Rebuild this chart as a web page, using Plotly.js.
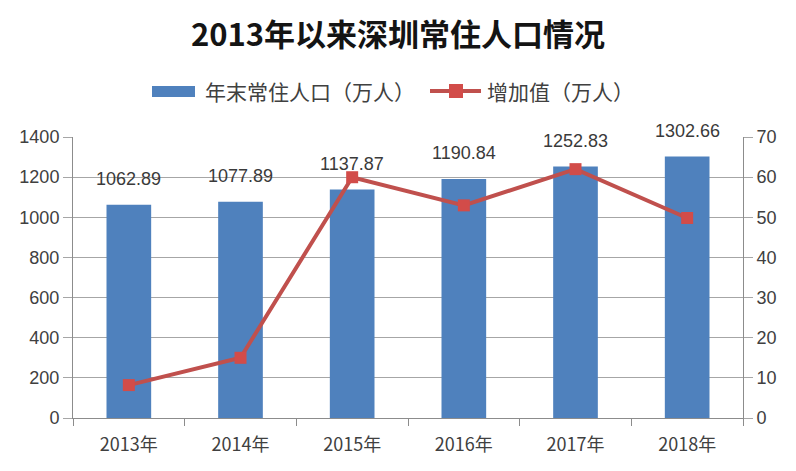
<!DOCTYPE html>
<html>
<head>
<meta charset="utf-8">
<script src="https://cdn.plot.ly/plotly-3.0.1.min.js"></script>
<style>html,body{margin:0;padding:0;background:#fff;}#chart{width:796px;height:471px;}</style>
</head>
<body>
<div id="chart"></div>
<script>
const years = ["2013年", "2014年", "2015年", "2016年", "2017年", "2018年"];
const population = [1062.89, 1077.89, 1137.87, 1190.84, 1252.83, 1302.66];
const increase = [8.2, 15.0, 59.98, 52.97, 61.99, 49.83];
const popLabels = ["1062.89", "1077.89", "1137.87", "1190.84", "1252.83", "1302.66"];
const seriesNames = ["年末常住人口（万人）", "增加值（万人）"];
const titleText = "2013年以来深圳常住人口情况";

const numFont = "Liberation Sans, Noto Sans CJK SC, sans-serif";
const cjkFont = "Noto Sans CJK SC, sans-serif";
const blue = "#4f81bd";
const red = "#c0504d";
const markerRed = "#d24c49";

const traces = [
  {
    type: "bar", x: years, y: population, name: seriesNames[0],
    marker: {color: blue}, width: 0.4, yaxis: "y", hoverinfo: "x+y"
  },
  {
    type: "scatter", mode: "lines+markers", x: years, y: increase, name: seriesNames[1],
    line: {color: red, width: 4}, marker: {symbol: "square", size: 12, color: markerRed},
    yaxis: "y2", cliponaxis: false
  }
];

const annotations = years.map((yr, i) => ({
  x: yr, y: population[i], xref: "x", yref: "y", text: popLabels[i],
  showarrow: false, yanchor: "middle", yshift: 26,
  font: {family: numFont, size: 18, color: "#3a3a3a"}
}));

// custom legend (paper coordinates)
const legY = (418 - 91) / 281;
annotations.push({
  xref: "paper", yref: "paper", x: (203 - 73) / 670, y: legY,
  xanchor: "left", yanchor: "middle", showarrow: false, text: seriesNames[0],
  font: {family: cjkFont, size: 21, color: "#404040"}
});
annotations.push({
  xref: "paper", yref: "paper", x: (485 - 73) / 670, y: legY,
  xanchor: "left", yanchor: "middle", showarrow: false, text: seriesNames[1],
  font: {family: cjkFont, size: 21, color: "#404040"}
});

const shapes = [
  {type: "rect", xref: "paper", yref: "paper",
   x0: (152 - 73) / 670, x1: (195 - 73) / 670, y0: (418 - 97) / 281, y1: (418 - 86) / 281,
   fillcolor: blue, line: {width: 0}},
  {type: "line", xref: "paper", yref: "paper",
   x0: (430 - 73) / 670, x1: (481 - 73) / 670, y0: legY, y1: legY,
   line: {color: red, width: 4}},
  {type: "rect", xref: "paper", yref: "paper",
   x0: (449 - 73) / 670, x1: (463 - 73) / 670, y0: (418 - 98) / 281, y1: (418 - 84) / 281,
   fillcolor: markerRed, line: {width: 0}}
];

const layout = {
  width: 796, height: 471,
  margin: {l: 73, r: 53, t: 137, b: 53},
  paper_bgcolor: "#ffffff", plot_bgcolor: "#ffffff",
  showlegend: false,
  title: {
    text: "<b>" + titleText + "</b>",
    x: 398 / 796, xref: "container", xanchor: "center",
    y: 1 - 35 / 471, yref: "container", yanchor: "middle",
    font: {family: cjkFont, size: 31, color: "#141414"}
  },
  xaxis: {
    type: "category", tickson: "boundaries",
    ticks: "outside", ticklen: 7, tickcolor: "#8c8c8c",
    showline: true, linecolor: "#8c8c8c", linewidth: 1,
    showgrid: false, ticklabelstandoff: 10,
    tickfont: {family: cjkFont, size: 18, color: "#404040"}
  },
  yaxis: {
    range: [0, 1400], dtick: 200, tick0: 0,
    showgrid: true, gridcolor: "#a6a6a6", gridwidth: 1,
    ticks: "outside", ticklen: 9, tickcolor: "#a6a6a6",
    showline: true, linecolor: "#8c8c8c", linewidth: 1,
    zeroline: false,
    tickfont: {family: numFont, size: 18, color: "#404040"}
  },
  yaxis2: {
    overlaying: "y", side: "right",
    range: [0, 70], dtick: 10, tick0: 0,
    showgrid: false,
    ticks: "outside", ticklen: 9, tickcolor: "#a6a6a6",
    showline: true, linecolor: "#8c8c8c", linewidth: 1,
    zeroline: false,
    tickfont: {family: numFont, size: 18, color: "#404040"}
  },
  annotations: annotations,
  shapes: shapes
};

Plotly.newPlot("chart", traces, layout, {displayModeBar: false, staticPlot: true});
</script>
</body>
</html>
